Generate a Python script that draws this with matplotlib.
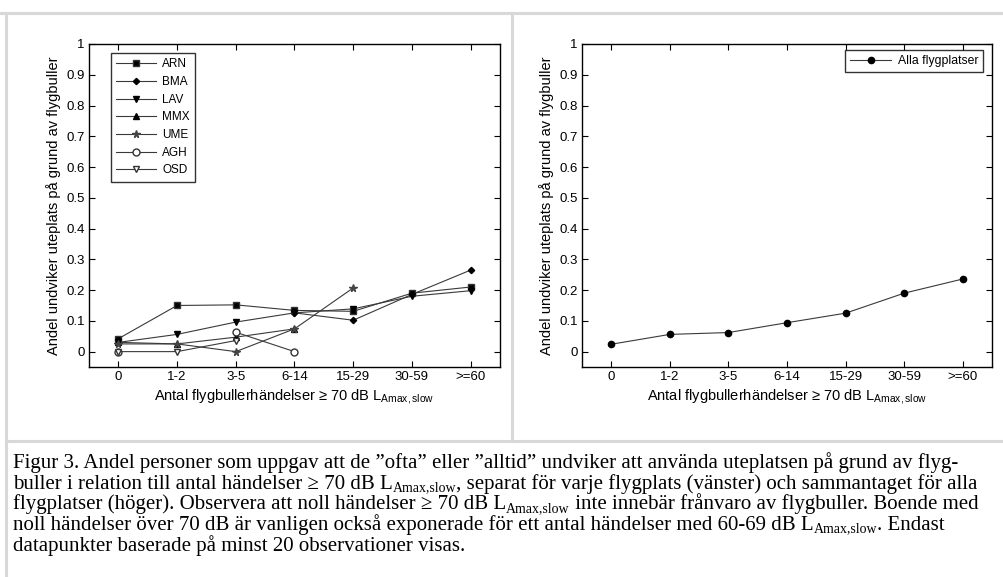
import numpy as np
import matplotlib
matplotlib.use("Agg")
import matplotlib.pyplot as plt
from matplotlib.lines import Line2D

plt.rcParams['font.family'] = ['Liberation Sans', 'DejaVu Sans']

# antal händelser >= 70 dB, klasser
categories = ["0", "1-2", "3-5", "6-14", "15-29", "30-59", ">=60"]
nan = np.nan

# andel som undviker uteplatsen, per flygplats
arn = [0.042, 0.150, 0.152, 0.134, 0.131, 0.190, 0.210]
bma = [nan, nan, nan, 0.126, 0.102, 0.186, 0.265]
lav = [0.030, 0.056, 0.096, 0.126, 0.139, 0.180, 0.198]
mmx = [0.030, 0.025, 0.047, 0.074, nan, nan, nan]
ume = [0.025, 0.025, 0.000, 0.074, 0.207, nan, nan]
agh = [0.000, nan, 0.063, 0.000, nan, nan, nan]
osd = [0.000, 0.000, 0.036, nan, nan, nan, nan]

# alla flygplatser sammantaget
alla = [0.024, 0.056, 0.062, 0.094, 0.125, 0.190, 0.236]

W, H = 1004, 577
fig = plt.figure(figsize=(W / 100, H / 100), dpi=100)


def px_axes(x0, y0, x1, y1):
    return fig.add_axes([x0 / W, 1 - y1 / H, (x1 - x0) / W, (y1 - y0) / H])


def style_axes(ax):
    ax.set_xlim(-0.5, 6.5)
    ax.set_ylim(-0.05, 1.0)
    ax.set_xticks(range(len(categories)))
    ax.set_xticklabels(categories)
    ax.set_yticks(np.arange(0, 1.01, 0.1))
    ax.set_yticklabels(["0"] + ["%.1f" % v for v in np.arange(0.1, 0.95, 0.1)] + ["1"])
    ax.tick_params(direction='in', top=True, right=True, length=4, width=0.8,
                   labelsize=9.5, pad=3)
    for s in ax.spines.values():
        s.set_linewidth(1.0)
    ax.set_ylabel("Andel undviker uteplats på grund av flygbuller", fontsize=10.5, labelpad=4)
    ax.set_xlabel(r"Antal flygbullerhändelser ≥ 70 dB $\mathregular{L_{Amax,slow}}$",
                  fontsize=10.5, labelpad=3)


lc = '#3a3a3a'
lw = 0.8

ax1 = px_axes(89, 44, 500, 367)
x = np.arange(len(categories))
ax1.plot(x, arn, color=lc, lw=lw, marker='s', ms=4.5, mfc='black', mec='#333', label='ARN')
ax1.plot(x, bma, color=lc, lw=lw, marker='D', ms=3.2, mfc='black', mec='black', label='BMA')
ax1.plot(x, lav, color=lc, lw=lw, marker='v', ms=4.5, mfc='black', mec='black', label='LAV')
ax1.plot(x, mmx, color=lc, lw=lw, marker='^', ms=4.5, mfc='black', mec='black', label='MMX')
ax1.plot(x, ume, color=lc, lw=lw, marker='*', ms=5.5, mfc='#444', mec='#444', label='UME')
ax1.plot(x, agh, color=lc, lw=lw, marker='o', ms=5, mfc='white', mec='#333', label='AGH')
ax1.plot(x, osd, color=lc, lw=lw, marker='v', ms=4.5, mfc='white', mec='#333', label='OSD')
style_axes(ax1)
leg1 = ax1.legend(loc='upper left', bbox_to_anchor=(0.0535, 0.972), borderaxespad=0,
                  fontsize=8.5, frameon=True, fancybox=False, edgecolor='black',
                  handlelength=3.4, labelspacing=0.48, borderpad=0.45, handletextpad=0.5)
leg1.get_frame().set_linewidth(1.0)

ax2 = px_axes(582, 44, 992, 367)
ax2.plot(x, alla, color=lc, lw=lw, marker='o', ms=4.5, mfc='black', mec='black',
         label='Alla flygplatser')
style_axes(ax2)
leg2 = ax2.legend(loc='upper right', bbox_to_anchor=(0.978, 0.981), borderaxespad=0,
                  fontsize=8.8, frameon=True, fancybox=False, edgecolor='black',
                  handlelength=3.4, borderpad=0.4, handletextpad=0.5)
leg2.get_frame().set_linewidth(1.0)

# ramlinjer runt figurerna
grey = '#d8d8d8'
for (xa, ya, xb, yb) in [(0, 13, W, 13), (6, 13, 6, H), (512, 13, 512, 441),
                         (6, 441, W, 441)]:
    fig.add_artist(Line2D([xa / W, xb / W], [1 - ya / H, 1 - yb / H],
                          transform=fig.transFigure, color=grey, lw=2.2))

# figurtext; (text, nedsänkt) bitar per rad
SUB = "Amax,slow"
caption = [
    [("Figur 3. Andel personer som uppgav att de ”ofta” eller ”alltid” undviker att använda uteplatsen på grund av flyg-", False)],
    [("buller i relation till antal händelser ≥ 70 dB L", False), (SUB, True),
     (", separat för varje flygplats (vänster) och sammantaget för alla", False)],
    [("flygplatser (höger). Observera att noll händelser ≥ 70 dB L", False), (SUB, True),
     (" inte innebär frånvaro av flygbuller. Boende med", False)],
    [("noll händelser över 70 dB är vanligen också exponerade för ett antal händelser med 60-69 dB L", False),
     (SUB, True), (". Endast", False)],
    [("datapunkter baserade på minst 20 observationer visas.", False)],
]
renderer = fig.canvas.get_renderer()
for i, parts in enumerate(caption):
    xpos = 13
    base = 468 + i * 20.7
    for txt, sub in parts:
        t = fig.text(xpos / W, 1 - (base + (2.5 if sub else 0)) / H, txt,
                     fontsize=10 if sub else 15, family='Liberation Serif',
                     va='baseline', ha='left')
        xpos += t.get_window_extent(renderer).width

fig.savefig("out.png", dpi=100)
